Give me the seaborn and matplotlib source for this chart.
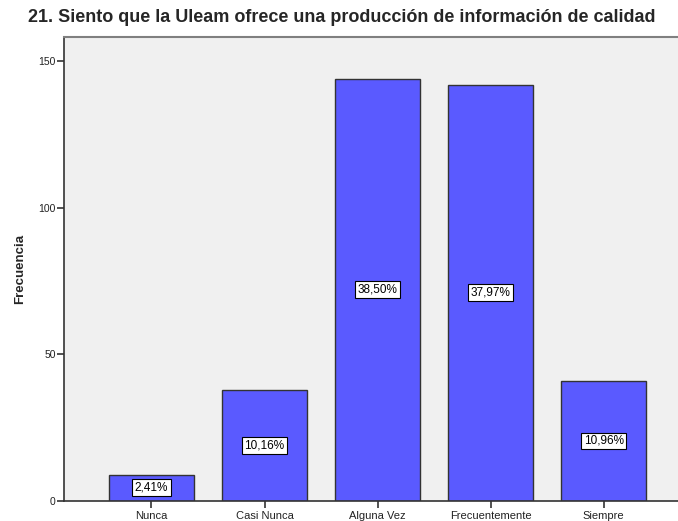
import numpy as np
import pandas as pd
import matplotlib
matplotlib.use('Agg')
import matplotlib.pyplot as plt
import seaborn as sns

# datos de la pregunta 21
categorias = ['Nunca', 'Casi Nunca', 'Alguna Vez', 'Frecuentemente', 'Siempre']
frecuencias = [9, 38, 144, 142, 41]
porcentajes = ['2,41%', '10,16%', '38,50%', '37,97%', '10,96%']
yticks = [0, 50, 100, 150]

sns.set_style('white')
plt.rcParams['font.family'] = ['Liberation Sans', 'DejaVu Sans']

df = pd.DataFrame({'categoria': categorias, 'frecuencia': frecuencias})

fig = plt.figure(figsize=(6.78, 5.21), dpi=100)
ax = fig.add_axes([64 / 678, 20 / 521, (680 - 64) / 678, 464 / 521])
ax.set_facecolor('#F0F0F0')

sns.barplot(data=df, x='categoria', y='frecuencia', color='#5A5AFF', saturation=1,
            width=0.75, edgecolor='#333333', linewidth=1.0, ax=ax)

# etiquetas de porcentaje en el centro de cada barra
for i, (f, p) in enumerate(zip(frecuencias, porcentajes)):
    ax.text(i, f / 2, p, ha='center', va='center', fontsize=8.5, color='black',
            bbox=dict(boxstyle='square,pad=0.2', fc='white', ec='black', lw=0.8))

ax.set_xlim(-0.774, 4.675)
ax.set_ylim(0, 158.2)
ax.set_yticks(yticks)
ax.set_yticklabels([str(t) for t in yticks], fontsize=7.5, color='#222222')
ax.set_xticks(range(len(categorias)))
ax.set_xticklabels(categorias, fontsize=8, color='#222222')
ax.tick_params(axis='both', direction='out', length=5, width=1.2, color='#333333', pad=1,
               left=True, bottom=True)
ax.tick_params(axis='x', pad=2)

ax.set_xlabel('')
ax.set_ylabel('Frecuencia', fontsize=9.5, fontweight='bold', labelpad=9)

for s in ['left', 'bottom']:
    ax.spines[s].set_color('#333333')
    ax.spines[s].set_linewidth(1.2)
ax.spines['top'].set_color('#808080')
ax.spines['top'].set_linewidth(1.5)
ax.spines['right'].set_visible(False)

fig.text(0.5 * (25 + 658) / 678, 1 - 18 / 521,
         '21. Siento que la Uleam ofrece una producción de información de calidad',
         ha='center', va='center', fontsize=13, fontweight='bold')

fig.savefig('out.png', dpi=100)
